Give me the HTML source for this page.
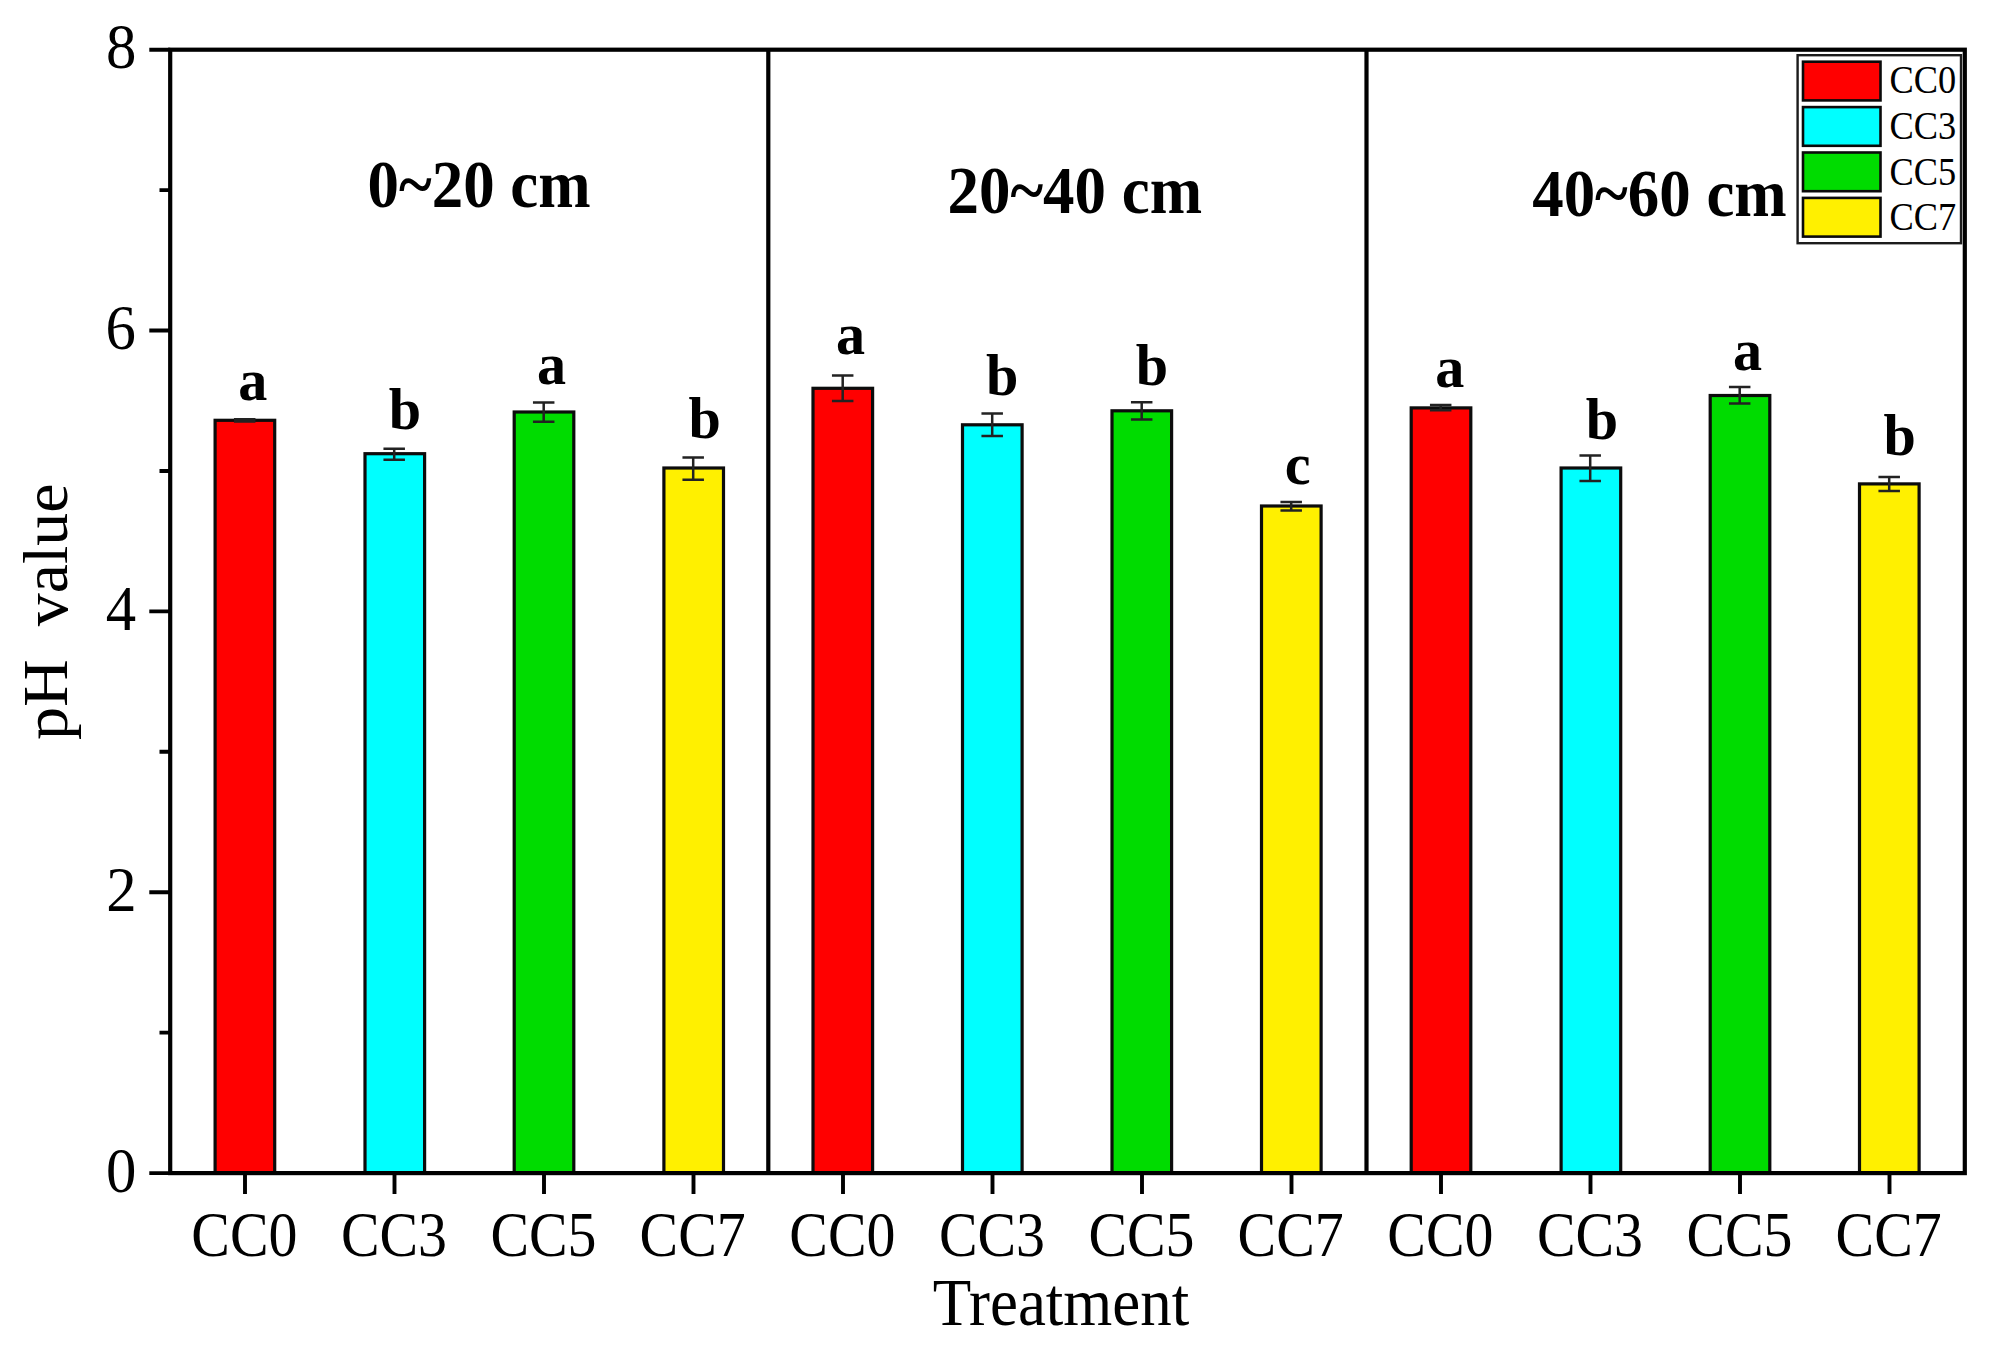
<!DOCTYPE html>
<html lang="en"><head><meta charset="utf-8"><title>pH value by treatment</title>
<style>html,body{margin:0;padding:0;background:#fff}body{width:1991px;height:1348px;overflow:hidden}svg{display:block}text{font-family:"Liberation Serif","Times New Roman",serif;fill:#000;white-space:pre}</style></head><body>
<svg width="1991" height="1348" viewBox="0 0 1991 1348">
<rect width="1991" height="1348" fill="#fff"/>
<g stroke="#0c0c0c" stroke-width="3.2">
<rect x="215.10" y="420.30" width="59.6" height="752.80" fill="#ff0000"/>
<rect x="365.00" y="453.70" width="59.6" height="719.40" fill="#00ffff"/>
<rect x="514.20" y="412.00" width="59.6" height="761.10" fill="#00dc00"/>
<rect x="663.90" y="468.00" width="59.6" height="705.10" fill="#fff000"/>
<rect x="813.00" y="388.30" width="59.6" height="784.80" fill="#ff0000"/>
<rect x="962.50" y="424.80" width="59.6" height="748.30" fill="#00ffff"/>
<rect x="1112.00" y="410.80" width="59.6" height="762.30" fill="#00dc00"/>
<rect x="1261.50" y="506.00" width="59.6" height="667.10" fill="#fff000"/>
<rect x="1411.20" y="407.90" width="59.6" height="765.20" fill="#ff0000"/>
<rect x="1561.10" y="468.00" width="59.6" height="705.10" fill="#00ffff"/>
<rect x="1710.20" y="395.50" width="59.6" height="777.60" fill="#00dc00"/>
<rect x="1859.50" y="483.90" width="59.6" height="689.20" fill="#fff000"/>
</g>
<g stroke="#222" stroke-width="2.5" fill="none">
<path d="M233.95 419.20H255.45M233.95 421.60H255.45M244.70 419.20V421.60"/>
<path d="M383.45 448.80H404.95M383.45 459.70H404.95M394.20 448.80V459.70"/>
<path d="M532.95 402.50H554.45M532.95 421.70H554.45M543.70 402.50V421.70"/>
<path d="M682.45 457.40H703.95M682.45 479.70H703.95M693.20 457.40V479.70"/>
<path d="M831.95 375.50H853.45M831.95 401.00H853.45M842.70 375.50V401.00"/>
<path d="M981.45 413.50H1002.95M981.45 436.00H1002.95M992.20 413.50V436.00"/>
<path d="M1130.95 402.30H1152.45M1130.95 419.50H1152.45M1141.70 402.30V419.50"/>
<path d="M1280.45 502.00H1301.95M1280.45 510.40H1301.95M1291.20 502.00V510.40"/>
<path d="M1429.95 405.10H1451.45M1429.95 410.30H1451.45M1440.70 405.10V410.30"/>
<path d="M1579.45 455.60H1600.95M1579.45 480.90H1600.95M1590.20 455.60V480.90"/>
<path d="M1728.95 387.00H1750.45M1728.95 403.50H1750.45M1739.70 387.00V403.50"/>
<path d="M1878.45 477.00H1899.95M1878.45 490.90H1899.95M1889.20 477.00V490.90"/>
</g>
<g stroke="#000" stroke-width="4.2" fill="none" stroke-linecap="butt">
<rect x="170.2" y="49.7" width="1794.60" height="1123.40"/>
<path d="M768.3 49.7V1173.1M1366.5 49.7V1173.1"/>
<path d="M149.3 1173.10H170.2M159.5 1032.67H170.2M149.3 892.25H170.2M159.5 751.82H170.2M149.3 611.40H170.2M159.5 470.98H170.2M149.3 330.55H170.2M159.5 190.12H170.2M149.3 49.70H170.2" stroke-width="3.9"/>
<path d="M245.00 1173.1V1194M394.50 1173.1V1194M544.00 1173.1V1194M693.50 1173.1V1194M843.00 1173.1V1194M992.50 1173.1V1194M1142.00 1173.1V1194M1291.50 1173.1V1194M1441.00 1173.1V1194M1590.50 1173.1V1194M1740.00 1173.1V1194M1889.50 1173.1V1194" stroke-width="3.9"/>
</g>
<text transform="translate(105.90,1191.66) scale(0.9500,1)" font-size="64.00">0</text>
<text transform="translate(106.28,911.05) scale(0.9500,1)" font-size="64.00">2</text>
<text transform="translate(105.75,630.04) scale(0.9500,1)" font-size="64.00">4</text>
<text transform="translate(105.52,349.03) scale(0.9500,1)" font-size="64.00">6</text>
<text transform="translate(105.90,68.26) scale(0.9500,1)" font-size="64.00">8</text>
<text transform="translate(191.33,1256.16) scale(0.9000,1)" font-size="64.30">CC0</text>
<text transform="translate(340.90,1256.16) scale(0.9000,1)" font-size="64.30">CC3</text>
<text transform="translate(490.40,1256.16) scale(0.9000,1)" font-size="64.30">CC5</text>
<text transform="translate(639.54,1256.16) scale(0.9000,1)" font-size="64.30">CC7</text>
<text transform="translate(789.33,1256.16) scale(0.9000,1)" font-size="64.30">CC0</text>
<text transform="translate(938.90,1256.16) scale(0.9000,1)" font-size="64.30">CC3</text>
<text transform="translate(1088.40,1256.16) scale(0.9000,1)" font-size="64.30">CC5</text>
<text transform="translate(1237.54,1256.16) scale(0.9000,1)" font-size="64.30">CC7</text>
<text transform="translate(1387.33,1256.16) scale(0.9000,1)" font-size="64.30">CC0</text>
<text transform="translate(1536.90,1256.16) scale(0.9000,1)" font-size="64.30">CC3</text>
<text transform="translate(1686.40,1256.16) scale(0.9000,1)" font-size="64.30">CC5</text>
<text transform="translate(1835.54,1256.16) scale(0.9000,1)" font-size="64.30">CC7</text>
<text transform="translate(932.71,1325.43) scale(0.9400,1)" font-size="67.00">Treatment</text>
<text transform="translate(67.3,739.9) rotate(-90) scale(1.047,1)" font-size="63">pH  value</text>
<text transform="translate(367.53,206.92) scale(0.9320,1)" font-size="67.50" font-weight="bold">0~20 cm</text>
<text transform="translate(947.50,212.52) scale(0.9320,1)" font-size="67.50" font-weight="bold">20~40 cm</text>
<text transform="translate(1532.19,216.02) scale(0.9320,1)" font-size="67.50" font-weight="bold">40~60 cm</text>
<text transform="translate(238.19,400.00) scale(0.9750,1)" font-size="59.70" font-weight="bold">a</text>
<text transform="translate(388.75,429.40) scale(0.9750,1)" font-size="59.70" font-weight="bold">b</text>
<text transform="translate(536.99,384.20) scale(0.9750,1)" font-size="59.70" font-weight="bold">a</text>
<text transform="translate(688.60,438.40) scale(0.9750,1)" font-size="59.70" font-weight="bold">b</text>
<text transform="translate(835.99,354.40) scale(0.9750,1)" font-size="59.70" font-weight="bold">a</text>
<text transform="translate(985.90,394.70) scale(0.9750,1)" font-size="59.70" font-weight="bold">b</text>
<text transform="translate(1135.85,385.30) scale(0.9750,1)" font-size="59.70" font-weight="bold">b</text>
<text transform="translate(1284.86,484.00) scale(0.9750,1)" font-size="59.70" font-weight="bold">c</text>
<text transform="translate(1435.19,386.80) scale(0.9750,1)" font-size="59.70" font-weight="bold">a</text>
<text transform="translate(1585.75,438.80) scale(0.9750,1)" font-size="59.70" font-weight="bold">b</text>
<text transform="translate(1732.89,370.20) scale(0.9750,1)" font-size="59.70" font-weight="bold">a</text>
<text transform="translate(1883.50,455.10) scale(0.9750,1)" font-size="59.70" font-weight="bold">b</text>
<rect x="1797.6" y="55.2" width="163.4" height="188.0" fill="#fff" stroke="#1c1c1c" stroke-width="2.4"/>
<g stroke="#0a0a0a" stroke-width="2.6">
<rect x="1803.0" y="61.70" width="77.5" height="38.7" fill="#ff0000"/>
<rect x="1803.0" y="107.10" width="77.5" height="38.7" fill="#00ffff"/>
<rect x="1803.0" y="152.50" width="77.5" height="38.7" fill="#00dc00"/>
<rect x="1803.0" y="197.90" width="77.5" height="38.7" fill="#fff000"/>
</g>
<text transform="translate(1889.58,93.10) scale(0.9140,1)" font-size="39.80">CC0</text>
<text transform="translate(1889.62,138.80) scale(0.9140,1)" font-size="39.80">CC3</text>
<text transform="translate(1889.62,184.50) scale(0.9140,1)" font-size="39.80">CC5</text>
<text transform="translate(1889.40,230.20) scale(0.9140,1)" font-size="39.80">CC7</text>
</svg></body></html>
